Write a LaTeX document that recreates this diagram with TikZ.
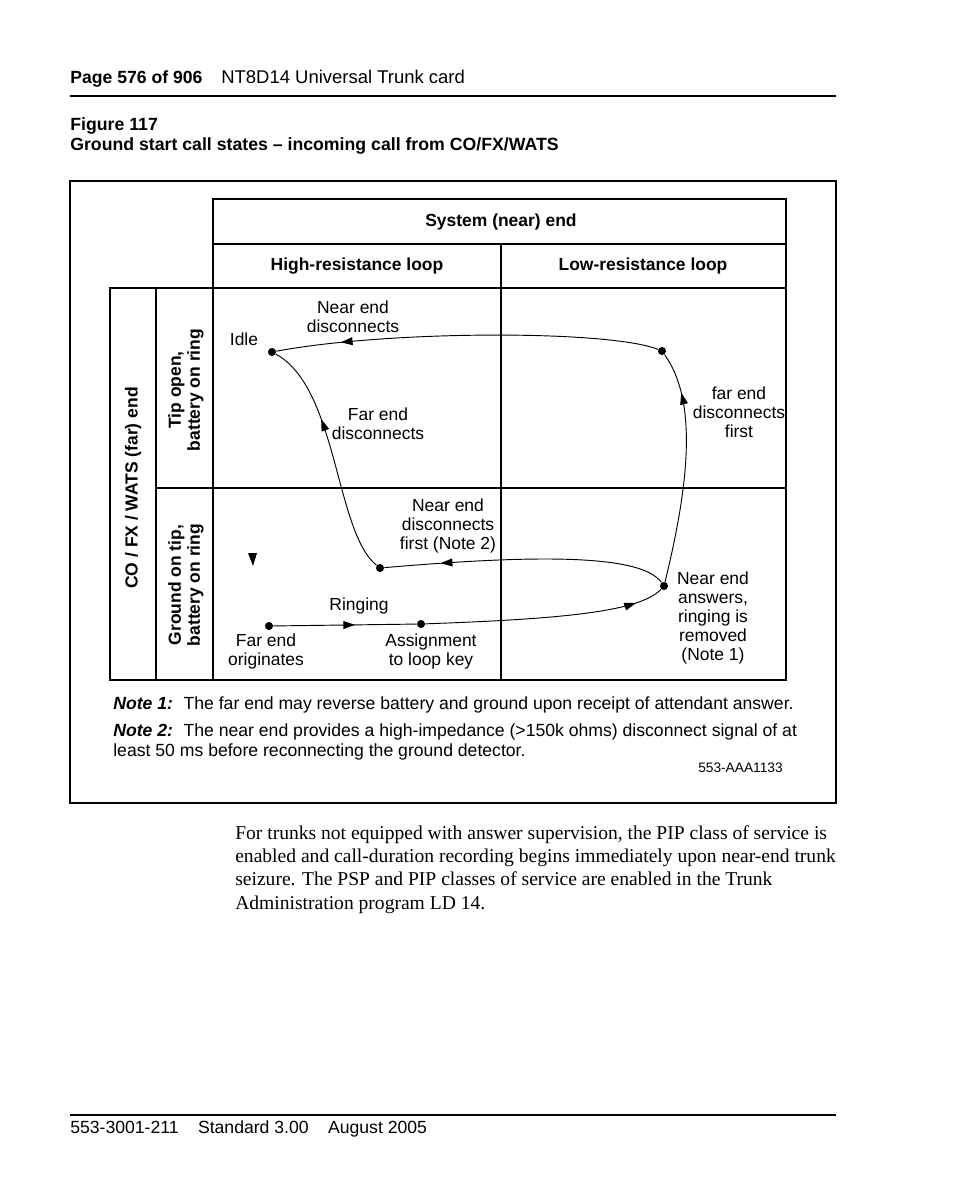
\documentclass[tikz,border=0pt]{standalone}
\usepackage{fontspec}
\setmainfont{Liberation Serif}
\setsansfont{Liberation Sans}
\usetikzlibrary{arrows.meta, decorations.markings, positioning}

\begin{document}
\begin{tikzpicture}[
    x=0.6415pt, y=-0.6415pt,
    state/.style = {circle, fill, inner sep=0pt, minimum size=5.2pt},
    callout/.style = {align=center, inner sep=0pt, font=\sffamily\fontsize{11.2}{12.2}\selectfont},
    headcell/.style = {inner sep=0pt, font=\sffamily\bfseries\fontsize{11.2}{12.2}\selectfont},
    sidecell/.style = {headcell, rotate=90, align=center},
    pagetext/.style = {inner sep=0pt, anchor=base west, font=\sffamily\fontsize{11.3}{13}\selectfont},
    grid/.style = {line width=0.7pt},
    flow/.style = {line width=0.6pt},
    tip at/.style = {postaction={decorate}, decoration={markings,
        mark=at position #1 with {\arrow{Triangle[length=7.5pt,width=5pt]}}}},
    ]
\useasboundingbox (0,0) rectangle (954,1202);

% page head
\node[pagetext, font=\sffamily\bfseries\fontsize{11.3}{13}\selectfont] (pagenum) at (70,83) {Page 576 of 906};
\node[pagetext, font=\sffamily\fontsize{11.85}{13}\selectfont] (pagetitle) at (221,83) {NT8D14 Universal Trunk card};
\draw[line width=1.4pt] (70,96) -- (836,96);
\node[pagetext, font=\sffamily\bfseries\fontsize{11.35}{13}\selectfont] (fignum) at (70,130) {Figure 117};
\node[pagetext, font=\sffamily\bfseries\fontsize{11.35}{13}\selectfont] (figtitle) at (70,150) {Ground start call states -- incoming call from CO/FX/WATS};

% frame and table
\draw[line width=1pt] (70,181) rectangle (836,803);
\draw[grid] (213,199) rectangle (786,288);
\draw[grid] (213,244) -- (786,244);
\draw[grid] (501,244) -- (501,680);
\draw[grid] (110,288) rectangle (786,680);
\draw[grid] (156,288) -- (156,680);
\draw[grid] (213,288) -- (213,680);
\draw[grid] (156,488) -- (786,488);

\node[headcell] (nearend) at (501,222) {System (near) end};
\node[headcell] (highres) at (357,266) {High-resistance loop};
\node[headcell] (lowres) at (643,266) {Low-resistance loop};
\node[sidecell] (farend) at (133,488) {CO / FX / WATS (far) end};
\node[sidecell] (tipopen) at (186,390) {Tip open,\\battery on ring};
\node[sidecell] (gndtip) at (186,585) {Ground on tip,\\battery on ring};

% call states
\node[state] (idle) at (272,352) {};
\node[state] (fardisc) at (662,351) {};
\node[state] (answer) at (664,586) {};
\node[state] (neardisc) at (380,568) {};
\node[state] (orig) at (269,626) {};
\node[state] (assign) at (421,624) {};

\node[callout] (idlelbl) at (244,339) {Idle};
\node[callout] (neardisclbl) at (353,317) {Near end\\disconnects};
\node[callout] (fardisclbl) at (378,424) {Far end\\disconnects};
\node[callout] (farfirstlbl) at (739,412) {far end\\disconnects\\first};
\node[callout] (nearfirstlbl) at (448,526) {Near end\\disconnects\\first (Note 2)};
\node[callout] (answerlbl) at (713,618) {Near end\\answers,\\ringing is\\removed\\(Note 1)};
\node[callout] (ringlbl) at (359,606) {Ringing};
\node[callout] (origlbl) at (266,651) {Far end\\originates};
\node[callout] (assignlbl) at (431,651) {Assignment\\to loop key};

% transitions
\draw[flow, tip at=0.57] (orig) -- (assign);
\draw[flow, tip at=0.88] (assign) .. controls (560,619) and (640,612) .. (answer);
\draw[flow, tip at=0.82] (answer) .. controls (690,480) and (697,400) .. (fardisc);
\draw[flow, tip at=0.83] (fardisc) .. controls (610,330) and (390,330) .. (idle);
\draw[flow, tip at=0.8] (answer) .. controls (640,552) and (520,556) .. (neardisc);
\draw[flow, tip at=0.66] (neardisc) .. controls (335,532) and (338,388) .. (idle);
\fill (248,553) -- (257,553) -- (253,566) -- cycle;

% notes
\node[pagetext] (note1) at (113,709) {\textbf{\textit{Note 1:}}\hspace{0.6em}The far end may reverse battery and ground upon receipt of attendant answer.};
\node[pagetext] (note2) at (113,736) {\textbf{\textit{Note 2:}}\hspace{0.6em}The near end provides a high-impedance (>150k ohms) disconnect signal of at};
\node[pagetext] (note2b) at (113,756) {least 50 ms before reconnecting the ground detector.};
\node[pagetext, anchor=base east, font=\sffamily\fontsize{8.8}{10}\selectfont] (figid) at (783,772) {553-AAA1133};

% body text
\node[inner sep=0pt, anchor=base west, align=left, font=\rmfamily\fontsize{12.55}{14.95}\selectfont] (body) at (235,909)
  {For trunks not equipped with answer supervision, the PIP class of service is\\
   enabled and call-duration recording begins immediately upon near-end trunk\\
   seizure. The PSP and PIP classes of service are enabled in the Trunk\\
   Administration program LD 14.};

% page foot
\draw[line width=1.4pt] (70,1115) -- (836,1115);
\node[pagetext] (foot) at (70,1133) {553-3001-211\hspace{1.1em}Standard 3.00\hspace{1.1em}August 2005};
\end{tikzpicture}
\end{document}
